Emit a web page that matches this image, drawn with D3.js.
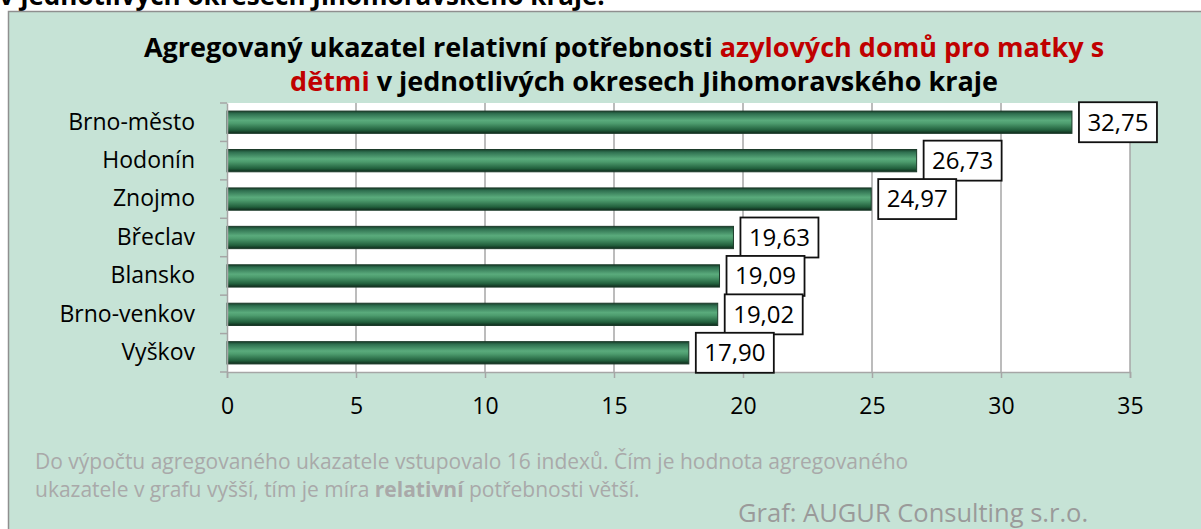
<!DOCTYPE html>
<html>
<head>
<meta charset="utf-8">
<script src="https://d3js.org/d3.v7.min.js"></script>
<style>
  body { margin: 0; background: #fff; }
  svg { display: block; font-family: "Open Sans", sans-serif; }
</style>
</head>
<body>
<svg width="1201" height="529"></svg>
<script>
  // data
  var categories = ["Brno-město", "Hodonín", "Znojmo", "Břeclav", "Blansko", "Brno-venkov", "Vyškov"];
  var values = [32.75, 26.73, 24.97, 19.63, 19.09, 19.02, 17.90];
  var xTicks = [0, 5, 10, 15, 20, 25, 30, 35];

  var width = 1201, height = 529;
  var svg = d3.select("svg");

  // cut-off heading above the chart panel
  svg.append("text")
      .attr("x", -1).attr("y", 5)
      .style("font-weight", "bold").style("font-size", "26px")
      .text("v jednotlivých okresech Jihomoravského kraje.");

  // chart panel
  svg.append("rect")
      .attr("x", 8.5).attr("y", 11.5)
      .attr("width", width).attr("height", height)
      .attr("fill", "#c6e3d6")
      .attr("stroke", "#8f8f8f").attr("stroke-width", 1.5);

  // title
  var title = svg.append("g").style("font-weight", "bold").style("font-size", "27px");
  var t1 = title.append("text").attr("x", 624).attr("y", 57).attr("text-anchor", "middle");
  t1.append("tspan").text("Agregovaný ukazatel relativní potřebnosti ");
  t1.append("tspan").attr("fill", "#c00000").text("azylových domů pro matky s");
  var t2 = title.append("text").attr("x", 644).attr("y", 91).attr("text-anchor", "middle");
  t2.append("tspan").attr("fill", "#c00000").text("dětmi");
  t2.append("tspan").text(" v jednotlivých okresech Jihomoravského kraje");

  var margin = {left: 227, right: 1130, top: 103, bottom: 372};

  var x = d3.scaleLinear().domain([0, 35]).range([margin.left, margin.right]);
  var y = d3.scaleBand().domain(categories).range([margin.top, margin.bottom]).paddingInner(0.42).paddingOuter(0.21);
  var yb = d3.scaleBand().domain(categories).range([margin.top, margin.bottom]);

  // plot area
  svg.append("rect")
      .attr("x", margin.left).attr("y", margin.top)
      .attr("width", margin.right - margin.left).attr("height", margin.bottom - margin.top)
      .attr("fill", "#fff");

  // gridlines
  svg.append("g").selectAll("line")
    .data(xTicks.slice(1))
    .join("line")
      .attr("x1", function(d) { return x(d); }).attr("x2", function(d) { return x(d); })
      .attr("y1", margin.top).attr("y2", margin.bottom)
      .attr("stroke", "#a6a6a6").attr("stroke-width", 1.5);

  // bar gradient
  var grad = svg.append("defs").append("linearGradient")
      .attr("id", "barGrad").attr("x1", 0).attr("y1", 0).attr("x2", 0).attr("y2", 1);
  [["0%", "#173f2a"], ["12%", "#2f7050"], ["42%", "#5aab7c"], ["55%", "#4d9c6e"], ["85%", "#22603d"], ["100%", "#0e2a1b"]]
    .forEach(function(s) { grad.append("stop").attr("offset", s[0]).attr("stop-color", s[1]); });

  svg.append("g").selectAll("rect")
    .data(values)
    .join("rect")
      .attr("x", x(0))
      .attr("y", function(d, i) { return y(categories[i]); })
      .attr("width", function(d) { return x(d) - x(0); })
      .attr("height", y.bandwidth())
      .attr("fill", "url(#barGrad)")
      .attr("stroke", "#1c3b2a").attr("stroke-width", 1);

  // axes
  var xAxis = svg.append("g")
      .attr("transform", "translate(0," + margin.bottom + ")")
      .call(d3.axisBottom(x).tickValues(xTicks).tickSize(6).tickPadding(20));
  var yAxis = svg.append("g")
      .attr("transform", "translate(" + margin.left + ",0)")
      .call(d3.axisLeft(yb).tickSize(0).tickPadding(32));

  [xAxis, yAxis].forEach(function(a) {
    a.select(".domain").attr("stroke", "#a6a6a6").attr("stroke-width", 1.5);
    a.selectAll(".tick line").attr("stroke", "#a6a6a6").attr("stroke-width", 1.5);
    a.selectAll("text").attr("fill", "#000").style("font-size", "23px").style("font-family", "'Open Sans', sans-serif");
  });

  // category separator ticks on the left axis
  svg.append("g").selectAll("line")
    .data(categories.concat(["end"]))
    .join("line")
      .attr("x1", margin.left - 7).attr("x2", margin.left)
      .attr("y1", function(d, i) { return margin.top + i * yb.step(); })
      .attr("y2", function(d, i) { return margin.top + i * yb.step(); })
      .attr("stroke", "#a6a6a6").attr("stroke-width", 1.5);

  // value labels in boxes
  var fmt = function(v) { return v.toFixed(2).replace(".", ","); };
  var labels = svg.append("g").selectAll("g")
    .data(values)
    .join("g")
      .attr("transform", function(d, i) {
        return "translate(" + (x(d) + 7) + "," + (yb(categories[i]) + yb.bandwidth() / 2) + ")";
      });
  labels.append("rect")
      .attr("x", 0).attr("y", -20).attr("width", 78).attr("height", 40)
      .attr("fill", "#fff").attr("stroke", "#111").attr("stroke-width", 1.8);
  labels.append("text")
      .attr("x", 39).attr("y", 0).attr("dy", "0.35em")
      .attr("text-anchor", "middle")
      .style("font-size", "24px")
      .text(fmt);

  // footnote
  var note = svg.append("g").attr("fill", "#a9a9a9").style("font-size", "21px");
  note.append("text").attr("x", 35).attr("y", 469)
      .text("Do výpočtu agregovaného ukazatele vstupovalo 16 indexů. Čím je hodnota agregovaného");
  var n2 = note.append("text").attr("x", 35).attr("y", 497);
  n2.append("tspan").text("ukazatele v grafu vyšší, tím je míra ");
  n2.append("tspan").style("font-weight", "bold").text("relativní");
  n2.append("tspan").text(" potřebnosti větší.");

  svg.append("text")
      .attr("x", 738).attr("y", 522)
      .attr("fill", "#9a9a9a").style("font-size", "25.5px")
      .text("Graf: AUGUR Consulting s.r.o.");
</script>
</body>
</html>
